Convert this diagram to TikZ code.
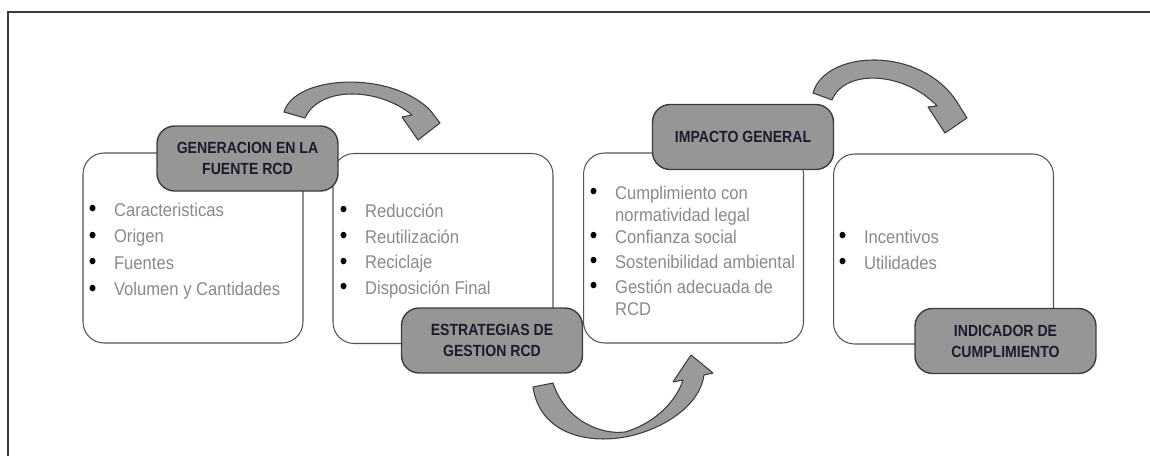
\documentclass[tikz,border=0pt]{standalone}
\usepackage{fontspec}
\setmainfont{Liberation Sans}
\newfontfamily\bodyf[FakeStretch=0.9]{Liberation Sans}
\newfontfamily\headf[FakeStretch=0.87]{Liberation Sans}
\definecolor{frameline}{HTML}{3A3A3A}
\definecolor{boxline}{HTML}{555555}
\definecolor{headfill}{HTML}{969696}
\definecolor{headline}{HTML}{3C3C3C}
\definecolor{headtxt}{HTML}{1A1C2E}
\definecolor{bodytxt}{HTML}{8A8A8A}
\definecolor{arrowfill}{HTML}{9A9A9A}
\newcommand{\bul}{\textcolor{black}{\raisebox{-0.2pt}{\scalebox{1.3}{\textbullet}}}}
\begin{document}
\begin{tikzpicture}[x=0.02cm,y=-0.02cm,
  card/.style={draw=boxline, line width=0.6pt, rounded corners=12pt, fill=white,
    minimum width=4.4cm, minimum height=3.8cm, inner sep=0pt},
  header/.style={draw=headline, line width=0.8pt, rounded corners=10pt, fill=headfill,
    minimum width=3.62cm, minimum height=1.3cm, inner sep=0pt, align=center,
    text=headtxt, font=\headf\bfseries\fontsize{9.2}{11.9}\selectfont},
  listtext/.style={inner sep=0pt, anchor=base west, text=bodytxt},
  bigarrow/.style={fill=arrowfill, draw=headline, line width=0.6pt, line join=round}]
\useasboundingbox (0,0) rectangle (1150,456);
% frame
\draw[frameline, line width=1.1pt] (1160,12) -- (8,12) -- (8,470);
% cards
\node[card] (b1) at (193,248) {};
\node[card] (b2) at (443,248.5) {};
\node[card] (b3) at (693.5,248) {};
\node[card] (b4) at (943.5,249) {};
% lists
\node[listtext] (l1) at (88.6,216.6) {\bodyf\fontsize{10.5}{15}\selectfont
  \begin{tabular}[t]{@{}l@{\hspace{10pt}}l@{}}
  \bul & Caracteristicas\\ \bul & Origen\\ \bul & Fuentes\\ \bul & Volumen y Cantidades
  \end{tabular}};
\node[listtext] (l2) at (339.6,217.6) {\bodyf\fontsize{10.5}{14.6}\selectfont
  \begin{tabular}[t]{@{}l@{\hspace{10pt}}l@{}}
  \bul & Reducción\\ \bul & Reutilización\\ \bul & Reciclaje\\ \bul & Disposición Final
  \end{tabular}};
\node[listtext] (l3) at (589.6,199.6) {\bodyf\fontsize{10.5}{12.5}\selectfont
  \begin{tabular}[t]{@{}l@{\hspace{10pt}}l@{}}
  \bul & Cumplimiento con\\ & normatividad legal\\ \bul & Confianza social\\[1.7pt]
  \bul & Sostenibilidad ambiental\\[1.7pt] \bul & Gestión adecuada de\\ & RCD
  \end{tabular}};
\node[listtext] (l4) at (838.6,243.6) {\bodyf\fontsize{10.5}{14.6}\selectfont
  \begin{tabular}[t]{@{}l@{\hspace{10pt}}l@{}}
  \bul & Incentivos\\ \bul & Utilidades
  \end{tabular}};
% headers
\node[header] (h1) at (247.5,158.5) {GENERACION EN LA\\FUENTE RCD};
\node[header] (h2) at (492,340.5) {ESTRATEGIAS DE\\GESTION RCD};
\node[header] (h3) at (743,137) {IMPACTO GENERAL};
\node[header] (h4) at (1005.5,341) {INDICADOR DE\\CUMPLIMIENTO};
% curved block arrows
\path[bigarrow] (284,112) .. controls (295,75) and (390,70) .. (430,110)
  -- (440,123) -- (418,140) -- (402,117) -- (412,115)
  .. controls (380,88) and (320,85) .. (305,118) -- cycle;
\path[bigarrow] (813,93) .. controls (825,50) and (920,45) .. (957,102)
  -- (967,118) -- (945,133) -- (928,107) -- (937,106)
  .. controls (905,72) and (845,68) .. (832,100) -- cycle;
\path[bigarrow] (533,387) .. controls (540,435) and (590,445) .. (630,436)
  .. controls (665,428) and (700,405) .. (704,375)
  -- (713,373) -- (691,355) -- (673,382) -- (683,380)
  .. controls (675,405) and (650,425) .. (625,432)
  .. controls (600,435) and (565,420) .. (553,383) -- cycle;
\end{tikzpicture}
\end{document}
